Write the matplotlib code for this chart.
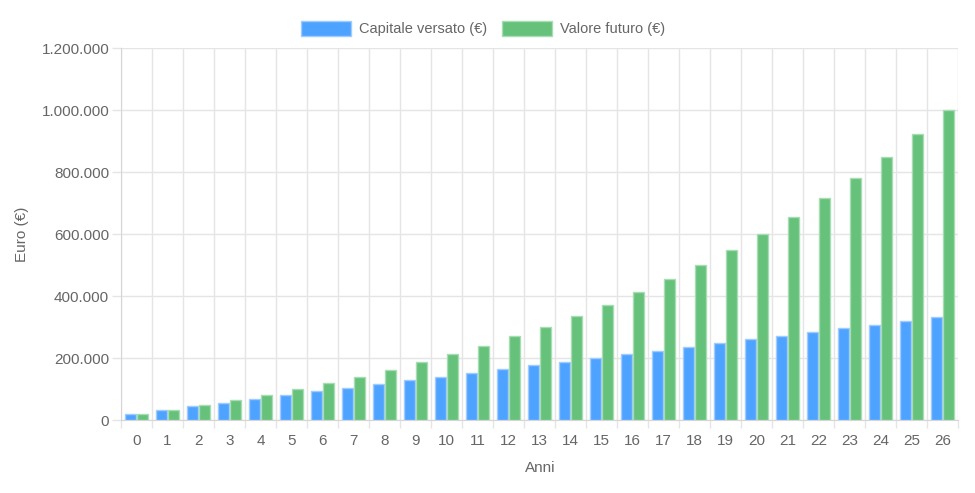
import matplotlib
matplotlib.use("Agg")
import matplotlib.pyplot as plt
from matplotlib.patches import Rectangle
from matplotlib.ticker import FuncFormatter, MultipleLocator
import numpy as np

plt.rcParams['font.family'] = ['Liberation Sans', 'DejaVu Sans']

years = list(range(27))
series_names = ["Capitale versato (€)", "Valore futuro (€)"]
capitale = [20000, 32000, 44000, 56000, 68000, 80000, 92000, 104000, 116000,
            128000, 140000, 152000, 164000, 176000, 188000, 200000, 212000,
            224000, 236000, 248000, 260000, 272000, 284000, 296000, 308000,
            320000, 332000]
valore = [20000, 33000, 48000, 64500, 81000, 99000, 119000, 140000, 161000,
          186000, 212000, 240000, 270000, 301000, 335000, 372000, 412000,
          454000, 500000, 547000, 600000, 655000, 715000, 780000, 848000,
          923000, 1001000]

blue = "#4da3ff"
blue_edge = "#9fcbff"
green = "#66c17a"
green_edge = "#a8dcb3"
txt = "#666666"
grid = "#e5e5e5"

fig = plt.figure(figsize=(9.75, 4.93), dpi=100)
ax = fig.add_axes([121/975, 1-420/493, (958-121)/975, (420-48)/493])

x = np.arange(len(years))
ax.bar(x - 0.2, capitale, width=0.36, color=blue, edgecolor=blue_edge, linewidth=1, zorder=3)
ax.bar(x + 0.2, valore, width=0.36, color=green, edgecolor=green_edge, linewidth=1, zorder=3)

ax.set_xlim(-0.5, len(years) - 0.5)
ax.set_ylim(0, 1200000)
ax.yaxis.set_major_locator(MultipleLocator(200000))
ax.yaxis.set_major_formatter(FuncFormatter(lambda v, p: f"{int(v):,}".replace(",", ".")))
ax.set_xticks(x)
ax.set_xticklabels([str(y) for y in years])
ax.set_xticks(np.arange(-0.5, len(years), 1), minor=True)

ax.tick_params(axis='x', which='major', length=0, pad=10, labelsize=11, labelcolor=txt)
ax.tick_params(axis='x', which='minor', length=6, color=grid, width=1)
ax.tick_params(axis='y', which='major', length=6.5, color=grid, width=1, pad=2, labelsize=11, labelcolor=txt)

ax.grid(True, axis='y', color=grid, linewidth=1, zorder=0)
ax.grid(True, axis='x', which='minor', color=grid, linewidth=1, zorder=0)
ax.grid(False, axis='x', which='major')

for s in ['top', 'right']:
    ax.spines[s].set_visible(False)
ax.spines['left'].set_color("#d5d5d5")
ax.spines['bottom'].set_color("#d5d5d5")

ax.set_xlabel("Anni", color=txt, fontsize=11, va='center')
ax.set_ylabel("Euro (€)", color=txt, fontsize=11, va='center')
ax.xaxis.set_label_coords((540-121)/837, (420-468)/372)
ax.yaxis.set_label_coords((22-121)/837, 0.5)

# legend
W, H = 975, 493
def rect(px, py, w, h, fc, ec):
    fig.add_artist(Rectangle((px/W, 1-(py+h)/H), w/W, h/H, transform=fig.transFigure,
                             facecolor=fc, edgecolor=ec, linewidth=1))
rect(301, 21, 50, 15, blue, blue_edge)
fig.text(359/W, 1-28.5/H, series_names[0], color=txt, fontsize=10.5, va='center', ha='left')
rect(502, 21, 50, 15, green, green_edge)
fig.text(560/W, 1-28.5/H, series_names[1], color=txt, fontsize=10.5, va='center', ha='left')

fig.savefig("out.png", dpi=100)
